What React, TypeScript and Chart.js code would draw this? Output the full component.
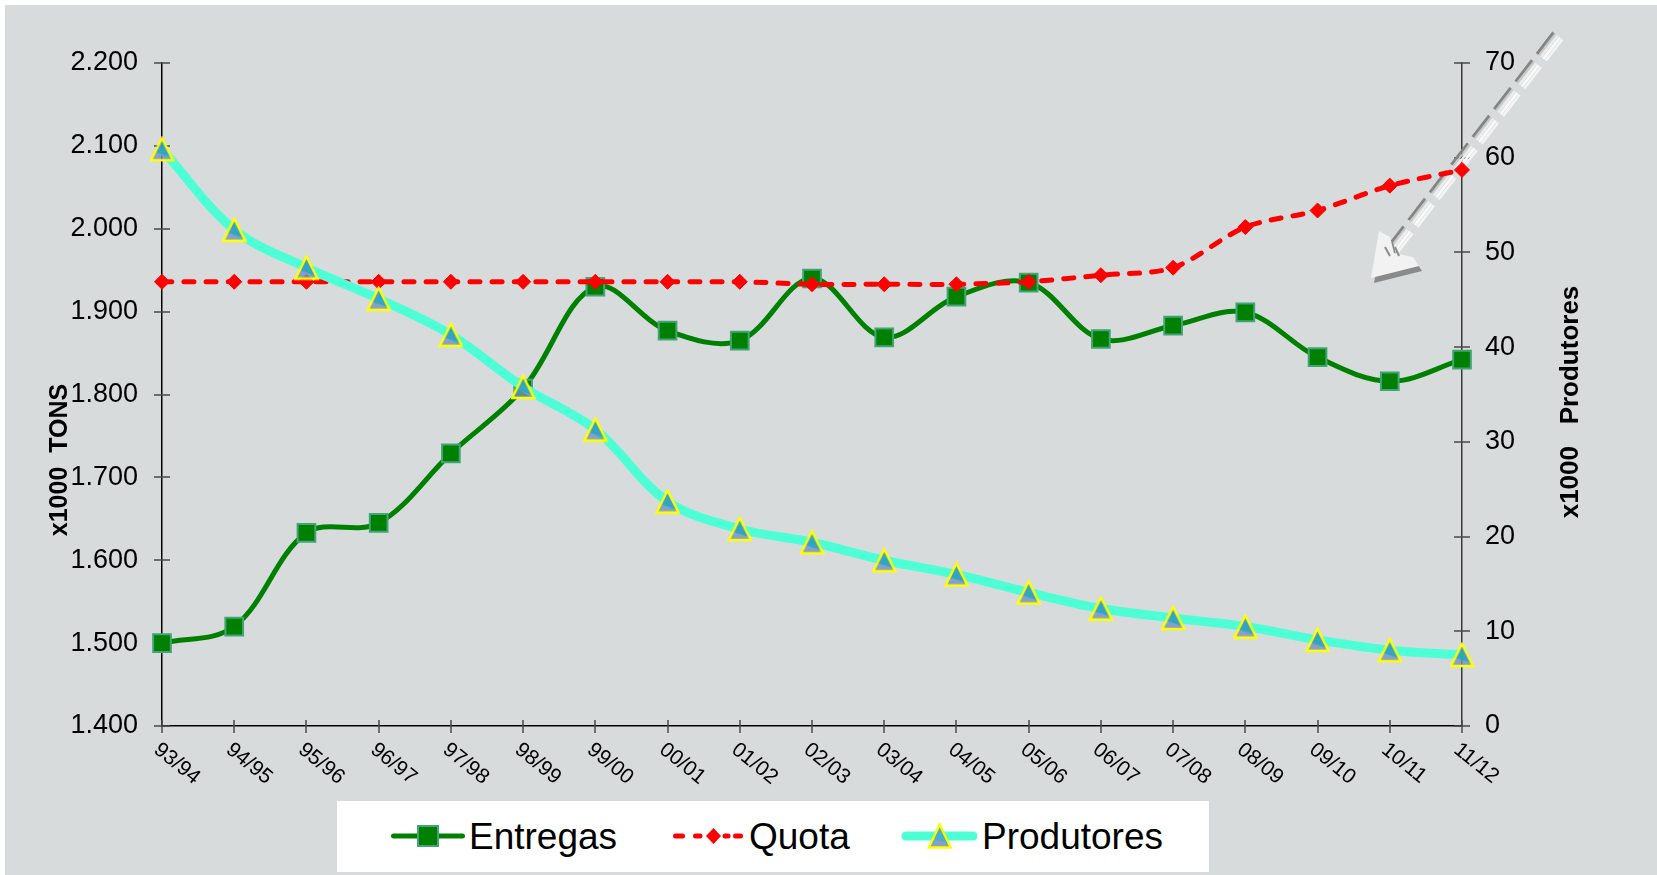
import React, { useEffect, useRef } from 'react';
import { Chart, registerables } from 'chart.js';

Chart.register(...registerables);

const categories = ['93/94', '94/95', '95/96', '96/97', '97/98', '98/99', '99/00', '00/01', '01/02', '02/03', '03/04', '04/05', '05/06', '06/07', '07/08', '08/09', '09/10', '10/11', '11/12'];
const entregas = [1500, 1520, 1633, 1645, 1729, 1807, 1930, 1877, 1865, 1940, 1869, 1918, 1935, 1867, 1883, 1899, 1845, 1816, 1842];
const quota = [1936, 1936, 1936, 1936, 1936, 1936, 1936, 1936, 1936, 1933, 1933, 1933, 1936, 1944, 1953, 2002, 2022, 2052, 2071];
const produtores = [60.9, 52.4, 48.4, 45.1, 41.3, 35.8, 31.3, 23.7, 20.8, 19.4, 17.5, 16.0, 14.1, 12.4, 11.4, 10.5, 9.1, 8.0, 7.5];
const leftTickLabels = ['1.400', '1.500', '1.600', '1.700', '1.800', '1.900', '2.000', '2.100', '2.200'];
const rightTickLabels = ['0', '10', '20', '30', '40', '50', '60', '70'];
const leftTitle = 'x1000  TONS';
const rightTitle = 'x1000   Produtores';
const seriesNames = ['Entregas', 'Quota', 'Produtores'];

const FONT = '"Liberation Sans", Arial, Helvetica, sans-serif';
const BG = '#D7DBDC';
const GREEN = '#008000';
const GREEN_BORDER = '#42A477';
const RED = '#FF0000';
const AQUA = '#4CFFD4';
const TEAL_FILL = 'rgba(39,164,195,0.8)';
const LAV_FILL = 'rgba(114,145,195,0.8)';

function makeTriangle(): HTMLCanvasElement {
  const c = document.createElement('canvas');
  c.width = 25;
  c.height = 26;
  const g = c.getContext('2d')!;
  const A = [12.5, 2], B = [1.5, 24], C = [23.5, 24];
  g.save();
  g.beginPath();
  g.moveTo(A[0], A[1]); g.lineTo(C[0], C[1]); g.lineTo(B[0], B[1]); g.closePath();
  g.clip();
  g.fillStyle = LAV_FILL;
  g.fillRect(0, 0, 25, 26);
  g.beginPath();
  g.moveTo(A[0], A[1]);
  g.lineTo(25, 22);
  g.lineTo(0, 14);
  g.closePath();
  g.fillStyle = TEAL_FILL;
  g.fill();
  g.restore();
  g.beginPath();
  g.moveTo(A[0], A[1]); g.lineTo(C[0], C[1]); g.lineTo(B[0], B[1]); g.closePath();
  g.strokeStyle = '#FFFF00';
  g.lineWidth = 2.4;
  g.lineJoin = 'miter';
  g.stroke();
  return c;
}

function drawArrow(ctx: CanvasRenderingContext2D, area: any) {
  const tail = { x: area.right + 96, y: area.top - 27 };
  const tip = { x: area.right - 91, y: area.top + 215 };
  const dx = tip.x - tail.x, dy = tip.y - tail.y;
  const len = Math.hypot(dx, dy);
  const ux = dx / len, uy = dy / len;
  const px = -uy, py = ux; // perpendicular
  const shaftLen = len - 34;
  const stripes = [
    { off: -5.5, color: '#F4F4F4', w: 2.6 },
    { off: -2.4, color: '#FAFAFA', w: 2.6 },
    { off: 0.6, color: '#EDEDED', w: 2.4 },
    { off: 3.4, color: '#C8C8C8', w: 1.8 },
    { off: 5.8, color: '#858585', w: 2.8 },
  ];
  ctx.save();
  ctx.setLineDash([27, 8]);
  ctx.lineCap = 'butt';
  stripes.forEach((s) => {
    ctx.strokeStyle = s.color;
    ctx.lineWidth = s.w;
    ctx.beginPath();
    ctx.moveTo(tail.x + px * s.off, tail.y + py * s.off);
    ctx.lineTo(tail.x + ux * shaftLen + px * s.off, tail.y + uy * shaftLen + py * s.off);
    ctx.stroke();
  });
  ctx.setLineDash([]);
  const head = [[0, 0], [8, -47], [19, -41], [23, -25], [42, -21], [48, -12]];
  const poly = (ox: number, oy: number, color: string) => {
    ctx.beginPath();
    head.forEach((p, i) => {
      const X = tip.x + p[0] + ox, Y = tip.y + p[1] + oy;
      if (i === 0) ctx.moveTo(X, Y); else ctx.lineTo(X, Y);
    });
    ctx.closePath();
    ctx.fillStyle = color;
    ctx.fill();
  };
  poly(3, 5, '#8A8A8A');
  poly(0, 0, '#F2F2F2');
  ctx.strokeStyle = '#8C8C8C';
  ctx.lineWidth = 2;
  ctx.beginPath();
  ctx.moveTo(tip.x + 14, tip.y - 31);
  ctx.lineTo(tip.x + 19, tip.y - 22);
  ctx.moveTo(tip.x + 24, tip.y - 31);
  ctx.lineTo(tip.x + 28, tip.y - 22);
  ctx.stroke();
  ctx.restore();
}

const decorPlugin = {
  id: 'decor',
  beforeDraw(chart: any) {
    const { ctx, width, height } = chart;
    ctx.save();
    ctx.fillStyle = '#FFFFFF';
    ctx.fillRect(0, 0, width, height);
    ctx.fillStyle = BG;
    ctx.fillRect(5, 5, width - 5, height - 5);
    ctx.restore();
  },
  beforeDatasetsDraw(chart: any) {
    const { ctx, chartArea, scales } = chart;
    ctx.save();
    ctx.strokeStyle = '#4A4A4A';
    ctx.lineWidth = 1.5;
    ctx.beginPath();
    scales.y.ticks.forEach((t: any) => {
      const y = Math.round(scales.y.getPixelForValue(t.value));
      ctx.moveTo(chartArea.left - 8, y);
      ctx.lineTo(chartArea.left + 8, y);
    });
    scales.y1.ticks.forEach((t: any) => {
      const y = Math.round(scales.y1.getPixelForValue(t.value));
      ctx.moveTo(chartArea.right - 8, y);
      ctx.lineTo(chartArea.right + 8, y);
    });
    categories.forEach((_, i) => {
      const x = Math.round(scales.x.getPixelForValue(i));
      ctx.moveTo(x, chartArea.bottom - 6);
      ctx.lineTo(x, chartArea.bottom + 7);
    });
    ctx.stroke();
    ctx.restore();
    drawArrow(ctx, chartArea);
  },
  afterDraw(chart: any) {
    const { ctx, chartArea, scales } = chart;
    ctx.save();
    ctx.fillStyle = '#000';
    ctx.font = `21px ${FONT}`;
    ctx.textAlign = 'left';
    ctx.textBaseline = 'top';
    categories.forEach((c, i) => {
      const x = scales.x.getPixelForValue(i);
      ctx.save();
      ctx.translate(x + 1, chartArea.bottom + 13);
      ctx.rotate((39 * Math.PI) / 180);
      ctx.fillText(c, 0, 0);
      ctx.restore();
    });
    ctx.textAlign = 'center';
    ctx.textBaseline = 'middle';
    ctx.font = `bold 25px ${FONT}`;
    ctx.save();
    ctx.translate(60, 460);
    ctx.rotate(-Math.PI / 2);
    ctx.fillText(leftTitle, 0, 0);
    ctx.restore();
    ctx.font = `bold 26px ${FONT}`;
    ctx.save();
    ctx.translate(1571, 402);
    ctx.rotate(-Math.PI / 2);
    ctx.fillText(rightTitle, 0, 0);
    ctx.restore();
    ctx.restore();
  },
};

function LegendTriangle({ cx }: { cx: number }) {
  const top = 3.5, bot = 26.5, half = 11;
  return (
    <g>
      <defs>
        <clipPath id="triClip">
          <polygon points={`${cx},${top} ${cx + half},${bot} ${cx - half},${bot}`} />
        </clipPath>
      </defs>
      <g clipPath="url(#triClip)">
        <rect x={cx - half} y={top} width={2 * half} height={bot - top} fill="#86A0C8" />
        <polygon points={`${cx},${top} ${cx + half + 1},${bot - 3} ${cx - half - 1},${bot - 10}`} fill="#4AAFC8" />
      </g>
      <polygon points={`${cx},${top} ${cx + half},${bot} ${cx - half},${bot}`} fill="none" stroke="#FFFF00" strokeWidth={2.4} />
    </g>
  );
}

export default function App() {
  const ref = useRef<HTMLCanvasElement>(null);

  useEffect(() => {
    const tri = makeTriangle();
    const chart = new Chart(ref.current!, {
      type: 'line',
      data: {
        labels: categories,
        datasets: [
          {
            label: seriesNames[0],
            data: entregas,
            yAxisID: 'y',
            borderColor: GREEN,
            borderWidth: 5,
            tension: 0.35,
            pointStyle: 'rect',
            pointRadius: 12.5,
            pointHoverRadius: 12.5,
            pointBackgroundColor: GREEN,
            pointBorderColor: GREEN_BORDER,
            pointBorderWidth: 2,
            order: 3,
            clip: false,
          } as any,
          {
            label: seriesNames[1],
            data: quota,
            yAxisID: 'y',
            borderColor: RED,
            borderWidth: 5,
            borderDash: [10, 12],
            borderCapStyle: 'round',
            tension: 0.3,
            pointStyle: 'rectRot',
            pointRadius: 7.5,
            pointHoverRadius: 7.5,
            pointBackgroundColor: RED,
            pointBorderColor: RED,
            pointBorderWidth: 1,
            order: 2,
            clip: false,
          } as any,
          {
            label: seriesNames[2],
            data: produtores,
            yAxisID: 'y1',
            borderColor: AQUA,
            borderWidth: 9,
            tension: 0.35,
            pointStyle: tri,
            pointRadius: 12,
            pointHoverRadius: 12,
            order: 1,
            clip: false,
          } as any,
        ],
      },
      options: {
        responsive: false,
        animation: false,
        devicePixelRatio: 1,
        events: [],
        layout: { padding: { top: 63, left: 0, right: 0, bottom: 0 } },
        plugins: {
          legend: { display: false },
          tooltip: { enabled: false },
          title: { display: false },
        },
        scales: {
          x: {
            type: 'category',
            offset: false,
            grid: { display: false, drawTicks: false },
            border: { display: true, color: '#000', width: 1.5 },
            ticks: { display: false },
            afterFit: (s: any) => { s.height = 149; },
          },
          y: {
            position: 'left',
            min: 1400,
            max: 2200,
            grid: { display: false, drawTicks: false },
            border: { display: true, color: '#000', width: 1.5 },
            ticks: {
              stepSize: 100,
              autoSkip: false,
              padding: 24,
              color: '#000',
              font: { family: FONT, size: 27 },
              callback: (_v: any, i: number) => leftTickLabels[i],
            },
            afterFit: (s: any) => { s.width = 162; },
          },
          y1: {
            position: 'right',
            min: 0,
            max: 70,
            grid: { display: false, drawTicks: false },
            border: { display: true, color: '#3A3A3A', width: 1.5 },
            ticks: {
              stepSize: 10,
              autoSkip: false,
              padding: 23,
              color: '#000',
              font: { family: FONT, size: 27 },
              callback: (_v: any, i: number) => rightTickLabels[i],
            },
            afterFit: (s: any) => { s.width = 195; },
          },
        },
      } as any,
      plugins: [decorPlugin],
    });
    return () => chart.destroy();
  }, []);

  const textStyle: React.CSSProperties = {
    position: 'absolute',
    top: 17,
    fontFamily: FONT,
    fontSize: 37,
    lineHeight: '37px',
    color: '#000',
    whiteSpace: 'nowrap',
  };

  return (
    <div style={{ position: 'fixed', left: 0, top: 0, width: 1657, height: 875, overflow: 'hidden', background: '#fff' }}>
      <canvas ref={ref} width={1657} height={875} style={{ position: 'absolute', left: 0, top: 0, width: 1657, height: 875 }} />
      <div style={{ position: 'absolute', left: 337, top: 801, width: 872, height: 71, background: '#fff' }}>
        <svg style={{ position: 'absolute', left: 54, top: 20 }} width={74} height={30}>
          <line x1={2.5} y1={15} x2={71.5} y2={15} stroke={GREEN} strokeWidth={5} strokeLinecap="round" />
          <rect x={27} y={5} width={20} height={20} fill={GREEN} stroke={GREEN_BORDER} strokeWidth={2} />
        </svg>
        <span style={{ ...textStyle, left: 132 }}>{seriesNames[0]}</span>
        <svg style={{ position: 'absolute', left: 335, top: 20 }} width={72} height={30}>
          <line x1={3.5} y1={15} x2={10.5} y2={15} stroke={RED} strokeWidth={5} strokeLinecap="round" />
          <line x1={23.5} y1={15} x2={28} y2={15} stroke={RED} strokeWidth={5} strokeLinecap="round" />
          <line x1={53} y1={15} x2={56} y2={15} stroke={RED} strokeWidth={5} strokeLinecap="round" />
          <line x1={63.5} y1={15} x2={68.5} y2={15} stroke={RED} strokeWidth={5} strokeLinecap="round" />
          <polygon points="41.5,7 49,15 41.5,23 34,15" fill={RED} />
        </svg>
        <span style={{ ...textStyle, left: 412 }}>{seriesNames[1]}</span>
        <svg style={{ position: 'absolute', left: 564, top: 20 }} width={78} height={30}>
          <line x1={5} y1={15} x2={72} y2={15} stroke={AQUA} strokeWidth={9} strokeLinecap="round" />
          <LegendTriangle cx={38.7} />
        </svg>
        <span style={{ ...textStyle, left: 645 }}>{seriesNames[2]}</span>
      </div>
    </div>
  );
}
